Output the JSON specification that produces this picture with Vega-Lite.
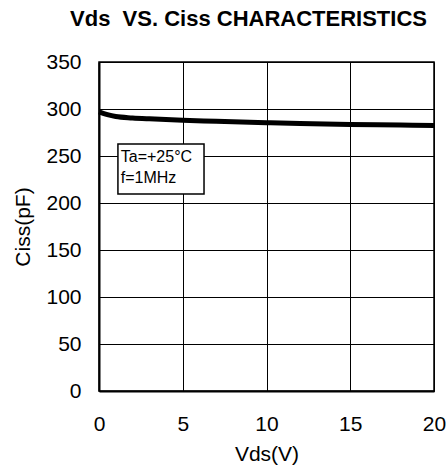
{
  "$schema": "https://vega.github.io/schema/vega-lite/v6.json",
  "autosize": "none",
  "padding": {"left": 99, "top": 62, "right": 14, "bottom": 75},
  "width": 335,
  "height": 329,
  "background": "white",
  "title": {"text": "Vds\u00a0 VS. Ciss CHARACTERISTICS", "font": "Liberation Sans", "fontSize": 22, "fontWeight": "bold", "color": "black", "anchor": "middle", "dx": -18, "offset": 20},
  "config": {
    "view": {"stroke": "black", "strokeWidth": 1.5},
    "axis": {"labelFont": "Liberation Sans", "titleFont": "Liberation Sans", "labelFontSize": 21, "titleFontSize": 21, "titleFontWeight": "normal", "labelColor": "black", "titleColor": "black", "gridColor": "black", "gridOpacity": 1, "gridWidth": 1, "ticks": false, "domainColor": "black", "domainWidth": 2, "labelFlush": false, "labelOverlap": false}
  },
  "datasets": {
    "curve": [
      {"vds": 0, "ciss": 297},
      {"vds": 0.5, "ciss": 294},
      {"vds": 1, "ciss": 292},
      {"vds": 2, "ciss": 290.5},
      {"vds": 3, "ciss": 289.5},
      {"vds": 5, "ciss": 288},
      {"vds": 7, "ciss": 287},
      {"vds": 10, "ciss": 285.5},
      {"vds": 12, "ciss": 284.5},
      {"vds": 15, "ciss": 283.5},
      {"vds": 18, "ciss": 283},
      {"vds": 20, "ciss": 282.5}
    ],
    "box": [{"x1": 1.13, "x2": 6.27, "y1": 209.6, "y2": 262.8}],
    "notes": [
      {"vds": 1.3, "ciss": 249, "label": "Ta=+25°C"},
      {"vds": 1.3, "ciss": 226.5, "label": "f=1MHz"}
    ]
  },
  "layer": [
    {
      "data": {"name": "curve"},
      "mark": {"type": "line", "color": "black", "strokeWidth": 5, "interpolate": "monotone"},
      "encoding": {
        "x": {"field": "vds", "type": "quantitative", "scale": {"domain": [0, 20]}, "axis": {"title": "Vds(V)", "values": [0, 5, 10, 15, 20], "labelPadding": 22, "titlePadding": 9}},
        "y": {"field": "ciss", "type": "quantitative", "scale": {"domain": [0, 350]}, "axis": {"title": "Ciss(pF)", "values": [0, 50, 100, 150, 200, 250, 300, 350], "labelPadding": 18, "titlePadding": 12}}
      }
    },
    {
      "data": {"name": "box"},
      "mark": {"type": "rect", "fill": "white", "stroke": "black", "strokeWidth": 1.5},
      "encoding": {
        "x": {"field": "x1", "type": "quantitative"},
        "x2": {"field": "x2"},
        "y": {"field": "y1", "type": "quantitative"},
        "y2": {"field": "y2"}
      }
    },
    {
      "data": {"name": "notes"},
      "mark": {"type": "text", "align": "left", "baseline": "middle", "font": "Liberation Sans", "fontSize": 16, "color": "black"},
      "encoding": {
        "x": {"field": "vds", "type": "quantitative"},
        "y": {"field": "ciss", "type": "quantitative"},
        "text": {"field": "label"}
      }
    }
  ]
}
